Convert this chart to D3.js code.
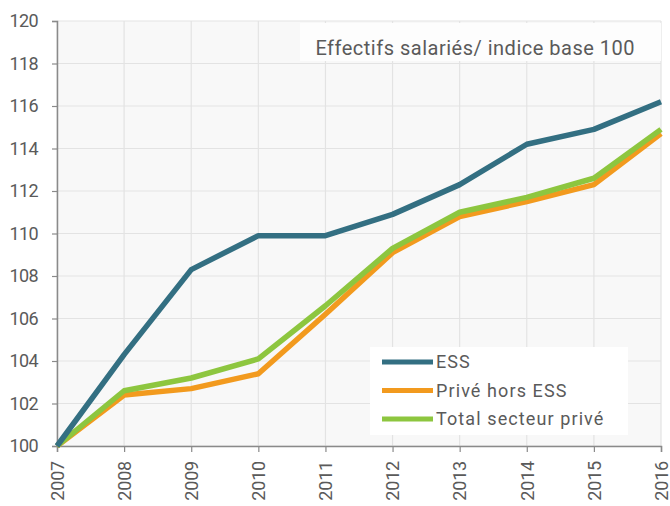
<!DOCTYPE html>
<html lang="fr">
  <head>
    <meta charset="utf-8">
    <script src="https://d3js.org/d3.v7.min.js"></script>
    <title>Effectifs salariés</title>
    <style>
      body { margin: 0; background: #fff; }
      text { font-family: Roboto, sans-serif; fill: #5a5a5a; }
    </style>
  </head>
  <body>
    <script>
      var years = [2007, 2008, 2009, 2010, 2011, 2012, 2013, 2014, 2015, 2016];
      var ess = [100, 104.3, 108.3, 109.9, 109.9, 110.9, 112.3, 114.2, 114.9, 116.2];
      var priveHorsEss = [100, 102.4, 102.7, 103.4, 106.2, 109.1, 110.8, 111.5, 112.3, 114.7];
      var totalPrive = [100, 102.6, 103.2, 104.1, 106.6, 109.3, 111.0, 111.7, 112.6, 114.9];
      var yTicks = [100, 102, 104, 106, 108, 110, 112, 114, 116, 118, 120];
      var seriesNames = ["ESS", "Privé hors ESS", "Total secteur privé"];
      var colors = ["#336f82", "#f29a1e", "#8dc63f"];

      var width = 670, height = 506;
      var x0 = 57, x1 = 661, y0 = 446, y1 = 21;

      var svg = d3.select("body").append("svg")
        .attr("width", width)
        .attr("height", height);

      var xScale = d3.scaleLinear().domain([2007, 2016]).range([x0, x1]);
      var yScale = d3.scaleLinear().domain([100, 120]).range([y0, y1]);

      // fond du graphique
      svg.append("rect")
        .attr("x", x0).attr("y", y1)
        .attr("width", x1 - x0).attr("height", y0 - y1)
        .attr("fill", "#f8f8f8");

      // grille
      svg.selectAll(".hgrid").data(yTicks).enter().append("line")
        .attr("x1", x0).attr("x2", x1)
        .attr("y1", function (d){ return yScale(d); })
        .attr("y2", function (d){ return yScale(d); })
        .attr("stroke", "#e3e3e3").attr("stroke-width", 1.2);
      svg.selectAll(".vgrid").data(years).enter().append("line")
        .attr("y1", y1).attr("y2", y0)
        .attr("x1", function (d){ return xScale(d); })
        .attr("x2", function (d){ return xScale(d); })
        .attr("stroke", "#e3e3e3").attr("stroke-width", 1.2);

      // titre
      svg.append("rect")
        .attr("x", 300).attr("y", 23).attr("width", 361).attr("height", 38)
        .attr("fill", "#fdfdfd");
      svg.append("text")
        .attr("x", 635).attr("y", 55)
        .attr("text-anchor", "end")
        .style("font-size", "20px")
        .style("letter-spacing", "0.5px")
        .text("Effectifs salariés/ indice base 100");

      // axes
      var yAxis = d3.axisLeft(yScale).tickValues(yTicks).tickSize(5).tickPadding(14);
      var gy = svg.append("g").attr("transform", "translate(" + x0 + ",0)").call(yAxis);
      gy.select(".domain").attr("stroke", "#8a8a8a").attr("stroke-width", 1.5);
      gy.selectAll(".tick line").attr("stroke", "#8a8a8a").attr("stroke-width", 1.2);
      gy.selectAll("text")
        .style("font-size", "18px")
        .style("letter-spacing", "-0.6px")
        .attr("fill", "#5a5a5a");

      var xAxis = d3.axisBottom(xScale).tickValues(years).tickFormat(d3.format("d")).tickSize(6);
      var gx = svg.append("g").attr("transform", "translate(0," + y0 + ")").call(xAxis);
      gx.select(".domain").attr("stroke", "#8a8a8a").attr("stroke-width", 1.5);
      gx.selectAll(".tick line").attr("stroke", "#8a8a8a").attr("stroke-width", 1.2);
      gx.selectAll("text")
        .style("font-size", "18px")
        .style("letter-spacing", "-0.2px")
        .attr("fill", "#5a5a5a")
        .attr("text-anchor", "end")
        .attr("transform", "rotate(-90)")
        .attr("x", -15).attr("y", 0).attr("dy", "0.35em");

      // courbes
      var allSeries = [ess, priveHorsEss, totalPrive];
      var line = d3.line()
        .x(function (d, i){ return xScale(years[i]); })
        .y(function (d){ return yScale(d); });

      [1, 2, 0].forEach(function (k){
        svg.append("path")
          .datum(allSeries[k])
          .attr("d", line)
          .attr("fill", "none")
          .attr("stroke", colors[k])
          .attr("stroke-width", 5.5)
          .attr("stroke-linejoin", "round");
      });

      // légende
      svg.append("rect")
        .attr("x", 370).attr("y", 347).attr("width", 258).attr("height", 88)
        .attr("fill", "#fff");
      seriesNames.forEach(function (name, i){
        var ly = 362 + i * 28.5;
        svg.append("line")
          .attr("x1", 382).attr("x2", 433)
          .attr("y1", ly).attr("y2", ly)
          .attr("stroke", colors[i]).attr("stroke-width", 5);
        svg.append("text")
          .attr("x", 436).attr("y", ly).attr("dy", "0.35em")
          .style("font-size", "18px")
          .style("letter-spacing", "1.1px")
          .text(name);
      });
    </script>
  </body>
</html>
